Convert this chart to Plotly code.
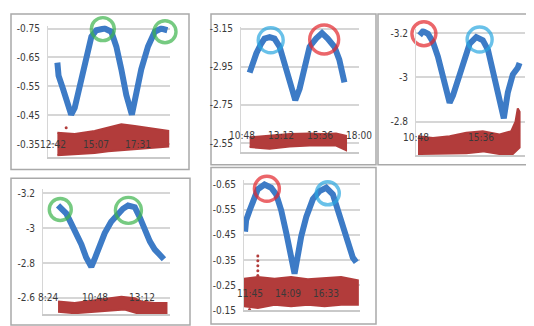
import plotly.graph_objects as go

W, H = 534, 326

# ---------------- data (time in minutes after midnight) ----------------
# Panel 1
p1_blue_t = [777, 781, 796, 807, 824, 836, 853, 876, 893, 910, 938, 961, 978, 995, 1012, 1031, 1046, 1063, 1086, 1109, 1131, 1152]
p1_blue_v = [-0.632, -0.587, -0.542, -0.508, -0.452, -0.475, -0.553, -0.654, -0.722, -0.744, -0.750, -0.739, -0.688, -0.609, -0.520, -0.452, -0.520, -0.609, -0.688, -0.739, -0.750, -0.744]
p1_red_top_t = [777, 836, 904, 950, 995, 1041, 1086, 1155]
p1_red_top_v = [-0.390, -0.385, -0.396, -0.407, -0.419, -0.413, -0.407, -0.396]
p1_red_bot_t = [777, 836, 904, 950, 1041, 1155]
p1_red_bot_v = [-0.312, -0.317, -0.320, -0.326, -0.334, -0.342]
p1_red_pts_t = [807]
p1_red_pts_v = [-0.407]
p1_circ_t = [932, 1144]
p1_circ_v = [-0.748, -0.739]
p1_circ_c = ["green", "green"]
p1_circ_d = [23, 22]
p1_yticks = [-0.75, -0.65, -0.55, -0.45, -0.35]
p1_yticktext = ["-0.75", "-0.65", "-0.55", "-0.45", "-0.35"]
p1_xlab_t = [762, 907, 1051]
p1_xlab = ["12:42", "15:07", "17:31"]

# Panel 2
p2_blue_t = [675, 687, 700, 718, 730, 749, 767, 786, 804, 823, 844, 860, 878, 897, 921, 943, 964, 989, 1007, 1026]
p2_blue_v = [-2.920, -2.971, -3.022, -3.073, -3.099, -3.107, -3.099, -3.056, -2.971, -2.886, -2.775, -2.835, -2.954, -3.056, -3.099, -3.128, -3.099, -3.056, -2.988, -2.869]
p2_red_top_t = [675, 749, 823, 897, 946, 995, 1032]
p2_red_top_v = [-2.580, -2.588, -2.597, -2.600, -2.597, -2.600, -2.588]
p2_red_bot_t = [675, 749, 823, 897, 995, 1032]
p2_red_bot_v = [-2.529, -2.520, -2.532, -2.537, -2.537, -2.512]
p2_red_pts_t = []
p2_red_pts_v = []
p2_circ_t = [753, 951]
p2_circ_v = [-3.090, -3.094]
p2_circ_c = ["cyan", "red"]
p2_circ_d = [25, 29]
p2_yticks = [-3.15, -2.95, -2.75, -2.55]
p2_yticktext = ["-3.15", "-2.95", "-2.75", "-2.55"]
p2_xlab_t = [648, 792, 936, 1080]
p2_xlab = ["10:48", "13:12", "15:36", "18:00"]

# Panel 3
p3_blue_t = [663, 678, 700, 722, 744, 766, 781, 796, 811, 833, 855, 885, 914, 943, 966, 988, 1010, 1036, 1054, 1076, 1098, 1106]
p3_blue_v = [-3.190, -3.209, -3.197, -3.160, -3.094, -3.006, -2.932, -2.885, -2.918, -2.991, -3.065, -3.153, -3.182, -3.168, -3.124, -3.035, -2.932, -2.815, -2.932, -3.013, -3.043, -3.065]
p3_red_top_t = [656, 722, 796, 870, 943, 1017, 1069, 1088, 1098, 1106]
p3_red_top_v = [-2.734, -2.726, -2.734, -2.749, -2.756, -2.741, -2.756, -2.800, -2.859, -2.844]
p3_red_bot_t = [656, 751, 870, 943, 1017, 1076, 1106]
p3_red_bot_v = [-2.653, -2.653, -2.656, -2.665, -2.653, -2.653, -2.682]
p3_red_pts_t = []
p3_red_pts_v = []
p3_circ_t = [682, 929]
p3_circ_v = [-3.197, -3.171]
p3_circ_c = ["red", "cyan"]
p3_circ_d = [24, 25]
p3_yticks = [-3.2, -3.0, -2.8]
p3_yticktext = ["-3.2", "-3", "-2.8"]
p3_xlab_t = [648, 936]
p3_xlab = ["10:48", "15:36"]

# Panel 4
p4_blue_t = [531, 541, 557, 572, 588, 604, 619, 635, 645, 661, 677, 697, 718, 734, 750, 771, 786, 802, 818, 833, 849, 862]
p4_blue_v = [-3.131, -3.112, -3.084, -3.028, -2.972, -2.907, -2.832, -2.779, -2.822, -2.897, -2.972, -3.037, -3.084, -3.112, -3.131, -3.121, -3.065, -2.991, -2.925, -2.879, -2.850, -2.822]
p4_red_top_t = [531, 583, 635, 687, 729, 771, 791, 833, 870]
p4_red_top_v = [-2.579, -2.570, -2.583, -2.594, -2.607, -2.598, -2.579, -2.570, -2.570]
p4_red_bot_t = [531, 583, 645, 687, 739, 791, 870]
p4_red_bot_v = [-2.520, -2.512, -2.520, -2.527, -2.533, -2.505, -2.505]
p4_red_pts_t = []
p4_red_pts_v = []
p4_circ_t = [538, 751]
p4_circ_v = [-3.108, -3.103]
p4_circ_c = ["green", "green"]
p4_circ_d = [22, 26]
p4_yticks = [-3.2, -3.0, -2.8, -2.6]
p4_yticktext = ["-3.2", "-3", "-2.8", "-2.6"]
p4_xlab_t = [500, 648, 792]
p4_xlab = ["8:24", "10:48", "13:12"]

# Panel 5
p5_blue_t = [688, 692, 705, 717, 736, 761, 786, 805, 824, 843, 859, 874, 884, 899, 918, 943, 968, 993, 1018, 1037, 1056, 1075, 1093, 1106]
p5_blue_v = [-0.463, -0.508, -0.547, -0.586, -0.631, -0.650, -0.637, -0.611, -0.547, -0.457, -0.379, -0.296, -0.354, -0.444, -0.521, -0.592, -0.624, -0.637, -0.611, -0.547, -0.469, -0.405, -0.360, -0.341]
p5_red_top_t = [684, 736, 799, 861, 924, 987, 1049, 1112]
p5_red_top_v = [-0.276, -0.283, -0.276, -0.283, -0.274, -0.279, -0.283, -0.270]
p5_red_bot_t = [684, 736, 799, 861, 924, 987, 1049, 1112]
p5_red_bot_v = [-0.167, -0.160, -0.173, -0.167, -0.173, -0.167, -0.173, -0.173]
p5_red_pts_t = [736, 736, 736, 736, 736, 705]
p5_red_pts_v = [-0.366, -0.347, -0.328, -0.308, -0.289, -0.154]
p5_circ_t = [770, 999]
p5_circ_v = [-0.633, -0.615]
p5_circ_c = ["red", "cyan"]
p5_circ_d = [25, 23]
p5_yticks = [-0.65, -0.55, -0.45, -0.35, -0.25, -0.15]
p5_yticktext = ["-0.65", "-0.55", "-0.45", "-0.35", "-0.25", "-0.15"]
p5_xlab_t = [705, 849, 993]
p5_xlab = ["11:45", "14:09", "16:33"]

# ---------------- styling / layout ----------------
BLUE = "#3d7bc6"
RED = "#b23c3b"
CIRC = {"green": "#3cb44b", "cyan": "#2aa6df", "red": "#e2252b"}
FONT = "Liberation Sans Narrow, DejaVu Sans Condensed, Arial Narrow, sans-serif"
TXT = "#3a3a3a"

def fx(px):
    return px / W

def fy(py):
    return 1 - py / H

panels = [
    dict(blue=(p1_blue_t, p1_blue_v), top=(p1_red_top_t, p1_red_top_v), bot=(p1_red_bot_t, p1_red_bot_v),
         pts=(p1_red_pts_t, p1_red_pts_v), circ=(p1_circ_t, p1_circ_v, p1_circ_c, p1_circ_d),
         yt=(p1_yticks, p1_yticktext), xl=(p1_xlab_t, p1_xlab), xly=-0.35,
         box=(40, 162, 15, 150), xr=[745, 1161], yr=[-0.3063, -0.7601], border=(3, 181, 3, 163)),
    dict(blue=(p2_blue_t, p2_blue_v), top=(p2_red_top_t, p2_red_top_v), bot=(p2_red_bot_t, p2_red_bot_v),
         pts=(p2_red_pts_t, p2_red_pts_v), circ=(p2_circ_t, p2_circ_v, p2_circ_c, p2_circ_d),
         yt=(p2_yticks, p2_yticktext), xl=(p2_xlab_t, p2_xlab), xly=-2.59,
         box=(233, 351, 16, 145), xr=[643, 1080], yr=[-2.503, -3.162], border=(203, 368, 3, 158)),
    dict(blue=(p3_blue_t, p3_blue_v), top=(p3_red_top_t, p3_red_top_v), bot=(p3_red_bot_t, p3_red_bot_v),
         pts=(p3_red_pts_t, p3_red_pts_v), circ=(p3_circ_t, p3_circ_v, p3_circ_c, p3_circ_d),
         yt=(p3_yticks, p3_yticktext), xl=(p3_xlab_t, p3_xlab), xly=-2.726,
         box=(408, 517, 18, 148), xr=[647, 1130], yr=[-2.649, -3.221], border=(370, 533, 3, 158)),
    dict(blue=(p4_blue_t, p4_blue_v), top=(p4_red_top_t, p4_red_top_v), bot=(p4_red_bot_t, p4_red_bot_v),
         pts=(p4_red_pts_t, p4_red_pts_v), circ=(p4_circ_t, p4_circ_v, p4_circ_c, p4_circ_d),
         yt=(p4_yticks, p4_yticktext), xl=(p4_xlab_t, p4_xlab), xly=-2.6,
         box=(35, 162, 183, 312), xr=[484, 881], yr=[-2.505, -3.226], border=(3, 182, 172, 323)),
    dict(blue=(p5_blue_t, p5_blue_v), top=(p5_red_top_t, p5_red_top_v), bot=(p5_red_bot_t, p5_red_bot_v),
         pts=(p5_red_pts_t, p5_red_pts_v), circ=(p5_circ_t, p5_circ_v, p5_circ_c, p5_circ_d),
         yt=(p5_yticks, p5_yticktext), xl=(p5_xlab_t, p5_xlab), xly=-0.218,
         box=(236, 352, 174, 308), xr=[684, 1120], yr=[-0.150, -0.667], border=(203, 368, 161, 322)),
]

fig = go.Figure()
layout = dict(width=W, height=H, margin=dict(l=0, r=0, t=0, b=0), showlegend=False,
              paper_bgcolor="white", plot_bgcolor="white", shapes=[], annotations=[])

for i, p in enumerate(panels, start=1):
    sx = "" if i == 1 else str(i)
    xref, yref = "x" + sx, "y" + sx
    x0, x1, y0, y1 = p["box"]
    layout["xaxis" + sx] = dict(domain=[fx(x0), fx(x1)], anchor=yref, range=p["xr"], showgrid=False,
                                zeroline=False, showticklabels=False, ticks="", showline=True,
                                linecolor="#c9c9c9", linewidth=1.5)
    layout["yaxis" + sx] = dict(domain=[fy(y1), fy(y0)], anchor=xref, range=p["yr"], tickvals=p["yt"][0],
                                ticktext=p["yt"][1], showgrid=True, gridcolor="#d6d6d6", gridwidth=1.5,
                                zeroline=False, showline=True, linecolor="#d6d6d6", linewidth=1,
                                ticks="", ticklabelstandoff=5,
                                tickfont=dict(family=FONT, size=10, color=TXT))
    # red noisy band
    tt, tv = p["top"]
    bt, bv = p["bot"]
    fig.add_trace(go.Scatter(x=list(tt) + list(bt)[::-1], y=list(tv) + list(bv)[::-1], fill="toself",
                             fillcolor=RED, mode="lines", line=dict(color=RED, width=2),
                             xaxis=xref, yaxis=yref, hoverinfo="skip"))
    if p["pts"][0]:
        fig.add_trace(go.Scatter(x=p["pts"][0], y=p["pts"][1], mode="markers",
                                 marker=dict(color=RED, size=3), xaxis=xref, yaxis=yref))
    # blue curve
    fig.add_trace(go.Scatter(x=p["blue"][0], y=p["blue"][1], mode="lines",
                             line=dict(color=BLUE, width=6), xaxis=xref, yaxis=yref))
    # circles
    ct, cv, cc, cd = p["circ"]
    cols = [CIRC[c] for c in cc]
    fig.add_trace(go.Scatter(x=ct, y=cv, mode="markers", cliponaxis=False,
                             marker=dict(symbol="circle-open", size=cd, color=cols,
                                         line=dict(width=3.4, color=cols)),
                             xaxis=xref, yaxis=yref))
    # x tick labels (Excel-style, inside the plot at the crossing level)
    for t, lab in zip(p["xl"][0], p["xl"][1]):
        layout["annotations"].append(dict(x=t, y=p["xly"], xref=xref, yref=yref, text=lab,
                                          showarrow=False, font=dict(family=FONT, size=10, color=TXT),
                                          xanchor="center", yanchor="middle"))
    bx0, bx1, by0, by1 = p["border"]
    layout["shapes"].append(dict(type="rect", xref="paper", yref="paper", x0=fx(bx0), x1=fx(bx1),
                                 y0=fy(by1), y1=fy(by0), line=dict(color="#a9a9a9", width=1.5),
                                 layer="below"))

fig.update_layout(**layout)
fig.write_html("out.html")
